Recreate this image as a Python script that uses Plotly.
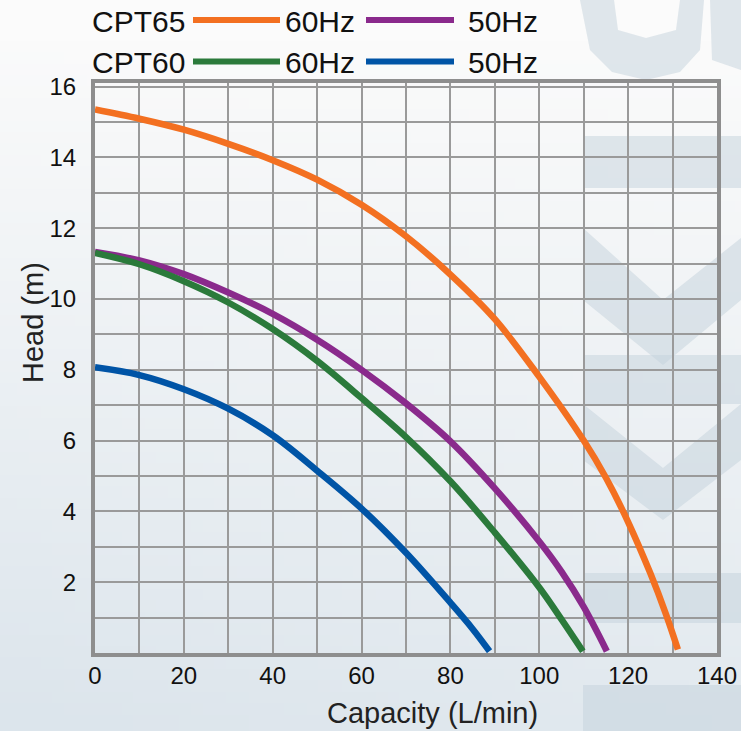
import base64, struct, zlib
import numpy as np
import plotly.graph_objects as go

# ---------------- data ----------------
cpt65_60_q = [0, 10, 20, 30, 40, 50, 60, 70, 80, 90, 100, 110, 115, 120, 125, 128.5, 131.2]
cpt65_60_h = [15.35, 15.09, 14.78, 14.38, 13.92, 13.37, 12.66, 11.77, 10.69, 9.43, 7.8, 6.0, 4.95, 3.7, 2.25, 1.1, 0.1]

cpt65_50_q = [0, 10, 20, 30, 40, 50, 60, 70, 80, 90, 100, 105, 110, 115.2]
cpt65_50_h = [11.33, 11.09, 10.7, 10.18, 9.58, 8.85, 8.0, 7.05, 5.98, 4.65, 3.15, 2.3, 1.3, 0.05]

cpt60_60_q = [0, 10, 20, 30, 40, 50, 60, 70, 80, 90, 100, 105, 109.8]
cpt60_60_h = [11.3, 10.98, 10.5, 9.9, 9.15, 8.25, 7.2, 6.1, 4.85, 3.4, 1.85, 0.95, 0.05]

cpt60_50_q = [0, 10, 20, 30, 40, 50, 60, 70, 80, 85, 88.8]
cpt60_50_h = [8.07, 7.85, 7.45, 6.9, 6.15, 5.15, 4.08, 2.83, 1.42, 0.68, 0.05]

x_ticks = [0, 20, 40, 60, 80, 100, 120, 140]
y_ticks = [2, 4, 6, 8, 10, 12, 14, 16]
x_title = "Capacity (L/min)"
y_title = "Head (m)"
models = ["CPT65", "CPT60"]
freqs = ["60Hz", "50Hz"]

ORANGE = "#f37021"
PURPLE = "#8a2a8c"
GREEN = "#2b7a3b"
BLUE = "#0054a6"

# ---------------- layout geometry (screen pixels of the 741x731 page) ----------------
SW, SH = 741, 731
FW, FH = SW, SH
L, R, T, B = 95, 717, 83, 653
PW, PH = R - L, B - T


def px(xp):
    return (xp - L) / PW


def py(yp):
    return (B - yp) / PH


# ---------------- background gradient image ----------------
def make_png(arr):
    h, w, _ = arr.shape
    raw = b"".join(b"\x00" + arr[i].astype(np.uint8).tobytes() for i in range(h))

    def chunk(tag, data):
        c = struct.pack(">I", len(data)) + tag + data
        return c + struct.pack(">I", zlib.crc32(tag + data) & 0xFFFFFFFF)

    png = b"\x89PNG\r\n\x1a\n"
    png += chunk(b"IHDR", struct.pack(">IIBBBBB", w, h, 8, 2, 0, 0, 0))
    png += chunk(b"IDAT", zlib.compress(raw, 9))
    png += chunk(b"IEND", b"")
    return "data:image/png;base64," + base64.b64encode(png).decode()


gw, gh = 64, 64
yy, xx = np.mgrid[0:gh, 0:gw]
t = np.clip(0.85 * yy / (gh - 1) + 0.2 * (1 - xx / (gw - 1)) * yy / (gh - 1) - 0.05, 0, 1)
c0 = np.array([251, 251, 251])
c1 = np.array([220, 229, 236])
grad = c0[None, None, :] * (1 - t[..., None]) + c1[None, None, :] * t[..., None]
bg_src = make_png(grad)

fig = go.Figure()

series = [
    (cpt65_60_q, cpt65_60_h, ORANGE, "CPT65 60Hz"),
    (cpt65_50_q, cpt65_50_h, PURPLE, "CPT65 50Hz"),
    (cpt60_60_q, cpt60_60_h, GREEN, "CPT60 60Hz"),
    (cpt60_50_q, cpt60_50_h, BLUE, "CPT60 50Hz"),
]
for q, h, col, name in series:
    fig.add_trace(go.Scatter(
        x=q, y=h, mode="lines", name=name,
        line=dict(color=col, width=6.5, shape="spline", smoothing=1.0),
        showlegend=False, hoverinfo="x+y",
    ))

FONT = "Liberation Sans, Arial, sans-serif"
grid_col = "#9a9a9a"
border_col = "#8e8e8e"

fig.update_layout(
    width=FW, height=FH,
    margin=dict(l=L, r=SW - R, t=T, b=SH - B, autoexpand=False),
    paper_bgcolor="#e8eef2",
    plot_bgcolor="rgba(0,0,0,0)",
    font=dict(family=FONT, size=24, color="#111111"),
    showlegend=False,
    images=[dict(
        source=bg_src, xref="paper", yref="paper",
        x=px(0), y=py(0), sizex=px(SW) - px(0), sizey=py(0) - py(SH),
        xanchor="left", yanchor="top", sizing="stretch", layer="below",
    )],
)

fig.update_xaxes(
    range=[0, 140], tickvals=x_ticks, ticktext=[str(v) for v in x_ticks],
    showgrid=True, gridcolor=grid_col, gridwidth=2,
    minor=dict(dtick=10, showgrid=True, gridcolor=grid_col, gridwidth=2),
    showline=True, linecolor=border_col, linewidth=4, mirror=True,
    ticks="", ticklabelstandoff=-2, zeroline=False,
    tickfont=dict(size=24, color="#111111"),
)
fig.update_yaxes(
    range=[0, 16.1], tickvals=y_ticks, ticktext=[str(v) for v in y_ticks],
    showgrid=True, gridcolor=grid_col, gridwidth=2,
    minor=dict(dtick=1, showgrid=True, gridcolor=grid_col, gridwidth=2),
    showline=True, linecolor=border_col, linewidth=4, mirror=True,
    ticks="", ticklabelstandoff=10, zeroline=False,
    tickfont=dict(size=24, color="#111111"),
)

# ---------------- watermark (decorative background shapes) ----------------
WM = "rgba(196,210,219,0.5)"
shapes = []


def poly(pts):
    d = "M " + " L ".join(f"{px(a):.5f},{py(b):.5f}" for a, b in pts) + " Z"
    return dict(type="path", xref="paper", yref="paper", path=d,
                fillcolor=WM, line=dict(width=0), layer="below")


def rect(x0, y0, x1, y1):
    return dict(type="rect", xref="paper", yref="paper",
                x0=px(x0), x1=px(x1), y0=py(y0), y1=py(y1),
                fillcolor=WM, line=dict(width=0), layer="below")


shapes.append(rect(583, 136, 741, 188))
shapes.append(poly([(583, 228), (663, 300), (741, 238), (741, 300), (663, 365), (583, 300)]))
shapes.append(rect(583, 355, 741, 404))
shapes.append(poly([(583, 404), (663, 468), (741, 404), (741, 460), (663, 520), (583, 460)]))
shapes.append(rect(583, 573, 741, 623))
shapes.append(rect(583, 685, 741, 731))
# top-right ring fragment
shapes.append(poly([(580, 0), (614, 0), (618, 30), (646, 38), (676, 30), (680, 0), (704, 0),
                    (700, 50), (680, 72), (646, 80), (612, 72), (590, 50)]))
shapes.append(poly([(710, 0), (741, 0), (741, 70), (712, 60)]))

# ---------------- custom legend ----------------
annotations = []
rows = [
    (models[0], ORANGE, PURPLE, 20, 22),
    (models[1], GREEN, BLUE, 61.5, 63),
]
for label, c60, c50, yline, ytext in rows:
    annotations.append(dict(text=label, x=px(90), y=py(ytext), xref="paper", yref="paper",
                            xanchor="left", yanchor="middle", showarrow=False,
                            font=dict(size=30, color="#111111", family=FONT)))
    shapes.append(dict(type="line", xref="paper", yref="paper",
                       x0=px(193), x1=px(280), y0=py(yline), y1=py(yline),
                       line=dict(color=c60, width=6)))
    annotations.append(dict(text=freqs[0], x=px(283), y=py(ytext), xref="paper", yref="paper",
                            xanchor="left", yanchor="middle", showarrow=False,
                            font=dict(size=30, color="#111111", family=FONT)))
    shapes.append(dict(type="line", xref="paper", yref="paper",
                       x0=px(366), x1=px(454), y0=py(yline), y1=py(yline),
                       line=dict(color=c50, width=6)))
    annotations.append(dict(text=freqs[1], x=px(466), y=py(ytext), xref="paper", yref="paper",
                            xanchor="left", yanchor="middle", showarrow=False,
                            font=dict(size=30, color="#111111", family=FONT)))

# axis titles
annotations.append(dict(text=x_title, x=px(432), y=py(713), xref="paper", yref="paper",
                        xanchor="center", yanchor="middle", showarrow=False,
                        font=dict(size=29, color="#222222", family=FONT)))
annotations.append(dict(text=y_title, x=px(33), y=py(323), xref="paper", yref="paper",
                        xanchor="center", yanchor="middle", showarrow=False, textangle=-90,
                        font=dict(size=29, color="#222222", family=FONT)))

fig.update_layout(shapes=shapes, annotations=annotations)

# remove the page's default body margin so the figure fills the window exactly
fig.write_html(
    "out.html",
    config={"displayModeBar": False},
    post_script="document.body.style.margin='0px';document.body.style.overflow='hidden';",
)
